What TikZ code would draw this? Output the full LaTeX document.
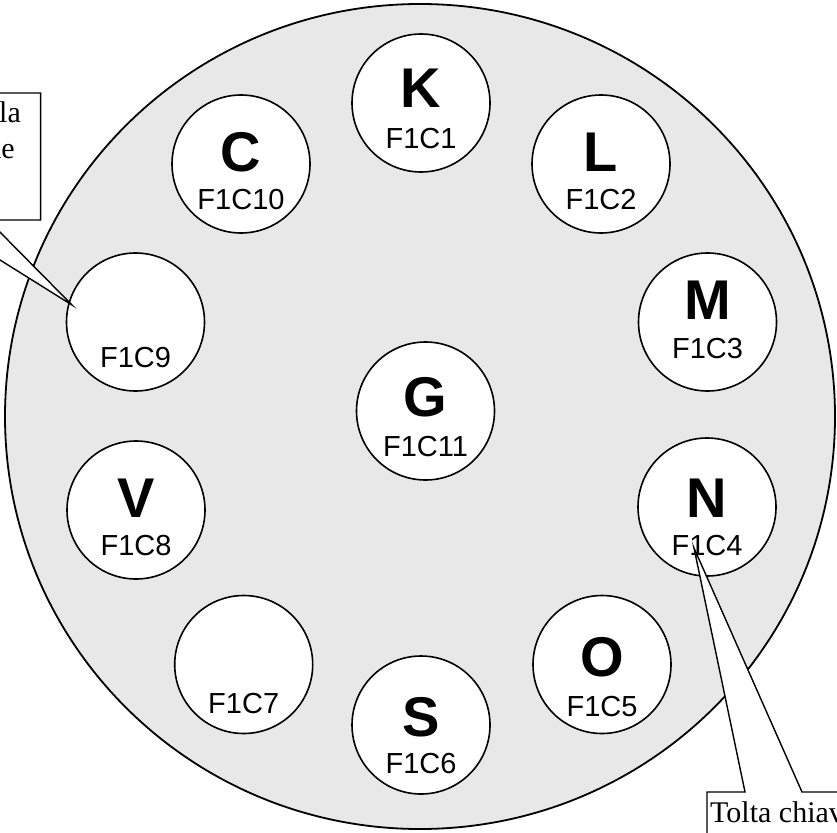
\documentclass[tikz,border=0pt]{standalone}
\usepackage{fontspec}
\setmainfont{Liberation Serif}
\newfontfamily\arialf{Liberation Sans}
\definecolor{bg}{RGB}{232,232,232}
\begin{document}
\begin{tikzpicture}[x=1pt,y=-1pt,
  hole/.style={circle, draw, fill=white, line width=1.6pt, minimum size=138pt, inner sep=0pt},
  letter/.style={font=\arialf\bfseries\fontsize{56}{56}\selectfont, anchor=base, inner sep=0pt},
  lab/.style={font=\arialf\fontsize{29}{29}\selectfont, anchor=base, inner sep=0pt},
  callout/.style={draw, fill=white, line width=1.4pt, line join=miter},
  ctext/.style={font=\fontsize{30}{30}\selectfont, inner sep=0pt}]
\useasboundingbox (0,0) rectangle (837,832);
\clip (0,0) rectangle (837,832);
% plate
\draw[fill=bg, line width=1.8pt] (420,416.5) ellipse [x radius=415, y radius=412.5];
% holes
\node[hole] (h1) at (421,103) {};
\node[hole] (h2) at (601,164) {};
\node[hole] (h3) at (707.5,322) {};
\node[hole] (h4) at (707,507) {};
\node[hole] (h5) at (602,664.5) {};
\node[hole] (h6) at (421,725) {};
\node[hole] (h7) at (243.7,664.5) {};
\node[hole] (h8) at (136,510) {};
\node[hole] (h9) at (135.5,322) {};
\node[hole] (h10) at (241,164) {};
\node[hole] (h11) at (425.5,411) {};
% letters
\node[letter] (l1) at (421,108) {K};
\node[letter] (l2) at (601,171) {L};
\node[letter] (l3) at (707.5,319) {M};
\node[letter] (l4) at (707,517) {N};
\node[letter] (l5) at (602,676) {O};
\node[letter] (l6) at (421,736) {S};
\node[letter] (l8) at (136,517) {V};
\node[letter] (l10) at (241,171) {C};
\node[letter] (l11) at (425.5,416) {G};
% labels
\node[lab] (n1) at (421,148.5) {F1C1};
\node[lab] (n2) at (601,209.5) {F1C2};
\node[lab] (n3) at (707.5,358) {F1C3};
\node[lab] (n4) at (707,555.5) {F1C4};
\node[lab] (n5) at (602,716.5) {F1C5};
\node[lab] (n6) at (421,773.5) {F1C6};
\node[lab] (n7) at (243.7,713.5) {F1C7};
\node[lab] (n8) at (136,555.5) {F1C8};
\node[lab] (n9) at (135.5,367.5) {F1C9};
\node[lab] (n10) at (241,209.5) {F1C10};
\node[lab] (n11) at (425.5,456.5) {F1C11};
% callout tips
\coordinate (tipA) at (72,305);
\coordinate (tipB) at (694,548);
% left callout
\draw[callout] (-250,93) -- (40.6,93) -- (40.6,220) -- (-12,220) -- (tipA) -- (-64,220) -- (-250,220) -- cycle;
\node[ctext, anchor=base east] (ta1) at (21,123) {Tolta dalla};
\node[ctext, anchor=base east] (ta2) at (15,158) {sede};
% right callout
\draw[callout] (707,792) -- (745,792) -- (tipB) -- (802,792) -- (1000,792) -- (1000,1000) -- (707,1000) -- cycle;
\node[ctext, anchor=base west] (tb) at (710,822) {Tolta chiave};
\end{tikzpicture}
\end{document}
